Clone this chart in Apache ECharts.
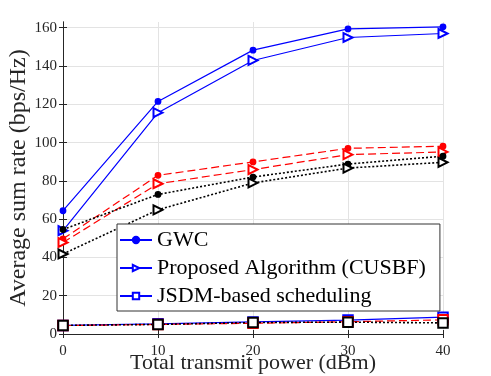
<!DOCTYPE html>
<html>
<head>
<meta charset="utf-8">
<script src="https://cdn.jsdelivr.net/npm/echarts@6/dist/echarts.min.js"></script>
<style>
  html, body { margin: 0; padding: 0; background: #fff; }
  #chart { width: 491px; height: 376px; }
</style>
</head>
<body>
<div id="chart"></div>
<script>
(function () {
  'use strict';

  const powers = [0, 10, 20, 30, 40];
  const yTicks = [0, 20, 40, 60, 80, 100, 120, 140, 160];

  // blue, solid
  const gwcBlue = [64.4, 121.5, 148.3, 159.4, 160.5];
  const cusbfBlue = [54, 115.6, 142.9, 154.9, 157];
  const jsdmBlue = [4.5, 5.3, 6.3, 7.3, 8.8];
  // red, dashed
  const gwcRed = [49.7, 82.9, 89.9, 97, 98.1];
  const cusbfRed = [47.8, 78.5, 85.9, 93.7, 95.1];
  const jsdmRed = [4.4, 5, 5.6, 6.4, 7.4];
  // black, dotted
  const gwcBlack = [54.6, 72.9, 82, 88.8, 92.9];
  const cusbfBlack = [41.8, 64.9, 78.9, 86.7, 89.7];
  const jsdmBlack = [4.5, 5, 6, 6.2, 5.8];

  const legendNames = ['GWC', 'Proposed Algorithm (CUSBF)', 'JSDM-based scheduling'];

  const font = '"Liberation Serif", "DejaVu Serif", serif';

  function pairs(values) {
    return powers.map((p, i) => [p, values[i]]);
  }

  function makeSeries(name, values, color, dash, kind) {
    const s = {
      name,
      type: 'line',
      data: pairs(values),
      color,
      lineStyle: { color, width: dash === 'dotted' ? 1.6 : 1.2, type: dash === 'solid' ? 'solid' : (dash === 'dashed' ? [8, 4] : [2, 2]) },
      itemStyle: { color, borderColor: color, borderWidth: 1.3 },
      emphasis: { disabled: true },
      animation: false,
      z: 3
    };
    if (kind === 'star') {
      s.symbol = 'circle';
      s.symbolSize = 5.5;
    } else if (kind === 'tri') {
      s.symbol = 'emptyTriangle';
      s.symbolSize = 9;
      s.symbolRotate = -90;
    } else {
      s.symbol = 'emptyRect';
      s.symbolSize = 9.5;
      s.itemStyle.borderWidth = 1.6;
    }
    return s;
  }

  const series = [
    makeSeries('GWC', gwcBlue, '#0000ff', 'solid', 'star'),
    makeSeries('Proposed Algorithm (CUSBF)', cusbfBlue, '#0000ff', 'solid', 'tri'),
    makeSeries('JSDM-based scheduling', jsdmBlue, '#0000ff', 'solid', 'sq'),
    makeSeries('GWC red', gwcRed, '#ff0000', 'dashed', 'star'),
    makeSeries('CUSBF red', cusbfRed, '#ff0000', 'dashed', 'tri'),
    makeSeries('JSDM red', jsdmRed, '#ff0000', 'dashed', 'sq'),
    makeSeries('GWC black', gwcBlack, '#000000', 'dotted', 'star'),
    makeSeries('CUSBF black', cusbfBlack, '#000000', 'dotted', 'tri'),
    makeSeries('JSDM black', jsdmBlack, '#000000', 'dotted', 'sq')
  ];

  const gridLine = { show: true, lineStyle: { color: '#e3e3e3', width: 1 } };
  const boxLine = { show: true, lineStyle: { color: '#262626', width: 1 } };
  const tick = { show: true, inside: true, length: 4, lineStyle: { color: '#262626' } };

  const chart = echarts.init(document.getElementById('chart'), null, { renderer: 'canvas' });
  chart.setOption({
    animation: false,
    backgroundColor: '#fff',
    grid: { left: 63, right: 48, top: 22, bottom: 42, containLabel: false, outerBoundsMode: 'none' },
    legend: {
      data: legendNames,
      orient: 'vertical',
      left: 117,
      top: 224,
      padding: [5, 14, 4, 2],
      itemGap: 6,
      itemWidth: 32,
      itemHeight: 8,
      backgroundColor: '#fff',
      borderColor: '#333',
      borderWidth: 1,
      textStyle: { fontFamily: font, fontSize: 22, color: '#000' },
      z: 10
    },
    xAxis: [{
      type: 'value',
      min: 0,
      max: 40,
      interval: 10,
      name: 'Total transmit power (dBm)',
      nameLocation: 'middle',
      nameGap: 18,
      nameMoveOverlap: false,
      nameTextStyle: { fontFamily: font, fontSize: 22, color: '#262626', verticalAlign: 'top' },
      axisLine: boxLine,
      axisTick: tick,
      axisLabel: { fontFamily: font, fontSize: 15, color: '#262626', margin: 10 },
      splitLine: gridLine
    }, {
      type: 'value',
      position: 'top',
      min: 0,
      max: 40,
      interval: 10,
      axisLine: boxLine,
      axisTick: tick,
      axisLabel: { show: false },
      splitLine: { show: false }
    }],
    yAxis: [{
      type: 'value',
      min: 0,
      max: 163,
      interval: 20,
      name: 'Average sum rate (bps/Hz)',
      nameLocation: 'middle',
      nameGap: 32,
      nameMoveOverlap: false,
      nameTextStyle: { fontFamily: font, fontSize: 24, color: '#262626', verticalAlign: 'bottom' },
      axisLine: boxLine,
      axisTick: Object.assign({ customValues: yTicks }, tick),
      axisLabel: { fontFamily: font, fontSize: 15, color: '#262626', margin: 6, customValues: yTicks },
      splitLine: gridLine
    }, {
      type: 'value',
      position: 'right',
      min: 0,
      max: 163,
      interval: 20,
      axisLine: boxLine,
      axisTick: Object.assign({ customValues: yTicks }, tick),
      axisLabel: { show: false },
      splitLine: { show: false }
    }],
    series
  });
})();
</script>
</body>
</html>
